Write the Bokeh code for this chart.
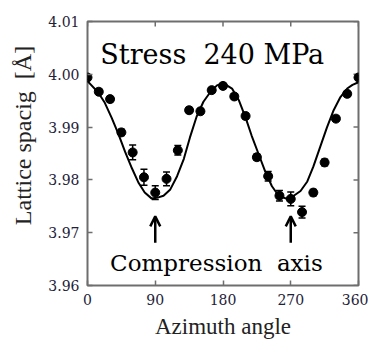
from math import pi
from bokeh.plotting import figure
from bokeh.models import (ColumnDataSource, Whisker, TeeHead, Arrow, OpenHead, Label,
                          FixedTicker, NumeralTickFormatter, Range1d)
from bokeh.embed import file_html
from bokeh.resources import INLINE

# measured points
angles = [0, 15, 30, 45, 60, 75, 90, 105, 120, 135, 150, 165, 180,
          195, 210, 225, 240, 255, 270, 285, 300, 315, 330, 345, 360]
spacing = [3.9994, 3.9967, 3.9953, 3.9890, 3.9852, 3.9805, 3.9776, 3.9802, 3.9856,
           3.9932, 3.9930, 3.9970, 3.9978, 3.9958, 3.9921, 3.9843, 3.9807, 3.9770,
           3.9764, 3.9739, 3.9776, 3.9833, 3.9916, 3.9963, 3.9994]
errors = [0.0005, 0.0005, 0.0005, 0.0006, 0.0014, 0.0015, 0.0013, 0.0013, 0.0009,
          0.0005, 0.0005, 0.0005, 0.0005, 0.0005, 0.0005, 0.0006, 0.0009, 0.0010,
          0.0013, 0.0011, 0.0006, 0.0006, 0.0005, 0.0005, 0.0005]

# fitted curve
fit_angles = [0, 14, 23, 32, 41, 50, 59, 68, 76, 85, 92, 101, 110, 119, 128, 136, 145,
              154, 163, 172, 178, 183, 192, 201, 210, 218, 227, 236, 245, 254, 265,
              274, 283, 292, 300, 309, 318, 327, 336, 345, 352, 360]
fit_spacing = [3.9987, 3.9966, 3.9946, 3.9918, 3.9887, 3.9853, 3.9822, 3.9794, 3.9776,
               3.9765, 3.9766, 3.9770, 3.9782, 3.9807, 3.9840, 3.9880, 3.9920, 3.9948,
               3.9966, 3.9979, 3.9982, 3.9981, 3.9973, 3.9951, 3.9918, 3.9884, 3.9850,
               3.9816, 3.9788, 3.9770, 3.9764, 3.9770, 3.9779, 3.9797, 3.9825, 3.9862,
               3.9899, 3.9932, 3.9957, 3.9973, 3.9980, 3.9985]

x_ticks = [0, 90, 180, 270, 360]
y_ticks = [3.96, 3.97, 3.98, 3.99, 4.00, 4.01]
arrow_angles = [90, 270]
x_min, x_max = 0, 360
y_min, y_max = 3.96, 4.01

SERIF_Q = "'Liberation Serif'"
TEXT_SERIF = "'DejaVu Serif'"
LABEL_COLOR = "#1e2238"
FRAME_COLOR = "#6e6e6e"
NB = "\u00a0"

p = figure(width=368, height=341, output_backend="svg", toolbar_location=None,
           x_range=Range1d(x_min, x_max), y_range=Range1d(y_min, y_max),
           min_border_left=87, min_border_right=10, min_border_top=21,
           min_border_bottom=52)
p.grid.visible = False
p.outline_line_color = FRAME_COLOR
p.outline_line_width = 2
p.background_fill_color = "white"
p.border_fill_color = "white"

for ax in (p.xaxis[0], p.yaxis[0]):
    ax.axis_line_color = None
    ax.major_tick_in = 5
    ax.major_tick_out = 0
    ax.minor_tick_line_color = None
    ax.major_tick_line_color = FRAME_COLOR
    ax.major_tick_line_width = 1.5
    ax.major_label_text_font = TEXT_SERIF
    ax.major_label_text_font_size = "14px"
    ax.major_label_text_font_style = "normal"
    ax.major_label_text_color = LABEL_COLOR
    ax.major_label_standoff = 8
    ax.axis_label_text_font = SERIF_Q
    ax.axis_label_text_font_style = "normal"
    ax.axis_label_text_color = "#222222"

xa = p.xaxis[0]
xa.ticker = FixedTicker(ticks=x_ticks)
xa.axis_label = "Azimuth angle"
xa.axis_label_text_font_size = "23px"
xa.axis_label_standoff = 6

ya = p.yaxis[0]
ya.ticker = FixedTicker(ticks=y_ticks)
ya.formatter = NumeralTickFormatter(format="0.00")
ya.axis_label = NB * 6 + "Lattice spacig " + NB + "[\u00c5]"
ya.axis_label_text_font_size = "24px"
ya.axis_label_standoff = 9

# mirrored inward ticks on the top and right edges (half of each dash is clipped)
p.scatter(x_ticks, [y_max] * len(x_ticks), marker="dash", angle=pi / 2, size=10,
          line_color=FRAME_COLOR, line_width=1.5)
p.scatter([x_max] * len(y_ticks), y_ticks, marker="dash", size=10,
          line_color=FRAME_COLOR, line_width=1.5)

# fit curve
p.line(fit_angles, fit_spacing, line_color="black", line_width=2)

# points with error bars
src = ColumnDataSource(dict(
    x=angles, y=spacing,
    upper=[v + e for v, e in zip(spacing, errors)],
    lower=[v - e for v, e in zip(spacing, errors)],
))
p.add_layout(Whisker(source=src, base="x", upper="upper", lower="lower",
                     line_color="black", line_width=1.5,
                     upper_head=TeeHead(size=7, line_color="black", line_width=1.5),
                     lower_head=TeeHead(size=7, line_color="black", line_width=1.5)))
p.scatter("x", "y", source=src, size=9, color="black")

# annotations
p.add_layout(Label(x=17, y=4.0037, text="Stress " + NB + "240 MPa", text_font=TEXT_SERIF,
                   text_font_size="27px", text_font_style="normal", text_color="black",
                   text_baseline="alphabetic"))
p.add_layout(Label(x=30, y=3.9643, text="Compression " + NB + "axis", text_font=TEXT_SERIF,
                   text_font_size="23px", text_font_style="normal", text_color="black",
                   text_baseline="alphabetic"))
for a in arrow_angles:
    p.add_layout(Arrow(x_start=a, y_start=3.9681, x_end=a, y_end=3.9731,
                       line_width=2.5, line_color="black",
                       end=OpenHead(size=10, line_width=2.5, line_color="black")))

open("out.html", "w").write(file_html(p, INLINE))
